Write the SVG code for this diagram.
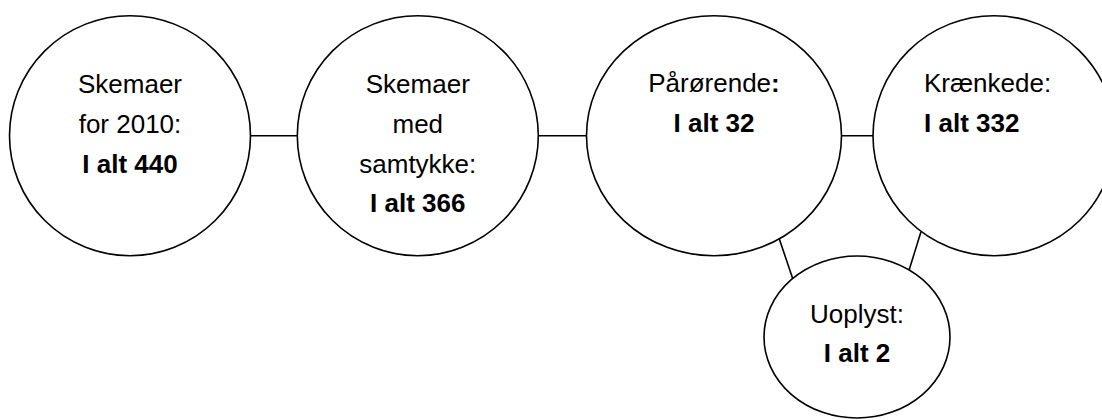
<svg xmlns="http://www.w3.org/2000/svg" width="1102" height="420" viewBox="0 0 1102 420">
<style>
.n{fill:#fff;stroke:#000;stroke-width:1.6}
.c{stroke:#000;stroke-width:1.6;fill:none}
text{font-family:"Liberation Sans",Arial,sans-serif;font-size:26px;fill:#000}
.m{text-anchor:middle}
.b{font-weight:bold}
</style>
<rect width="1102" height="420" fill="#fff"/>
<g id="connectors">
<line class="c" x1="250" y1="135.7" x2="297.3" y2="135.7"/>
<line class="c" x1="538.3" y1="135.7" x2="586.7" y2="135.7"/>
<line class="c" x1="841.7" y1="135.7" x2="873.3" y2="135.7"/>
<line class="c" x1="779" y1="238" x2="793" y2="279.5"/>
<line class="c" x1="921" y1="231.7" x2="906" y2="280"/>
</g>
<g id="node-skemaer2010">
<ellipse class="n" cx="130" cy="135.7" rx="120.5" ry="120"/>
<text class="m" x="130" y="93">Skemaer</text>
<text class="m" x="130" y="133">for 2010:</text>
<text class="m b" x="130" y="172.5">I alt 440</text>
</g>
<g id="node-samtykke">
<ellipse class="n" cx="417.8" cy="135.7" rx="120.5" ry="120"/>
<text class="m" x="417.8" y="93">Skemaer</text>
<text class="m" x="417.8" y="133">med</text>
<text class="m" x="417.8" y="172.5">samtykke:</text>
<text class="m b" x="417.8" y="212">I alt 366</text>
</g>
<g id="node-paaroerende">
<ellipse class="n" cx="714" cy="135.7" rx="127.5" ry="120"/>
<text class="m" x="714" y="92">Pårørende<tspan class="b">:</tspan></text>
<text class="m b" x="714" y="132">I alt 32</text>
</g>
<g id="node-kraenkede">
<ellipse class="n" cx="994" cy="135.7" rx="121" ry="120"/>
<text x="924" y="92">Krænkede:</text>
<text class="b" x="924" y="132">I alt 332</text>
</g>
<g id="node-uoplyst">
<ellipse class="n" cx="857" cy="337" rx="93" ry="81"/>
<text class="m" x="857" y="322.5">Uoplyst:</text>
<text class="m b" x="857" y="361.5">I alt 2</text>
</g>
</svg>
